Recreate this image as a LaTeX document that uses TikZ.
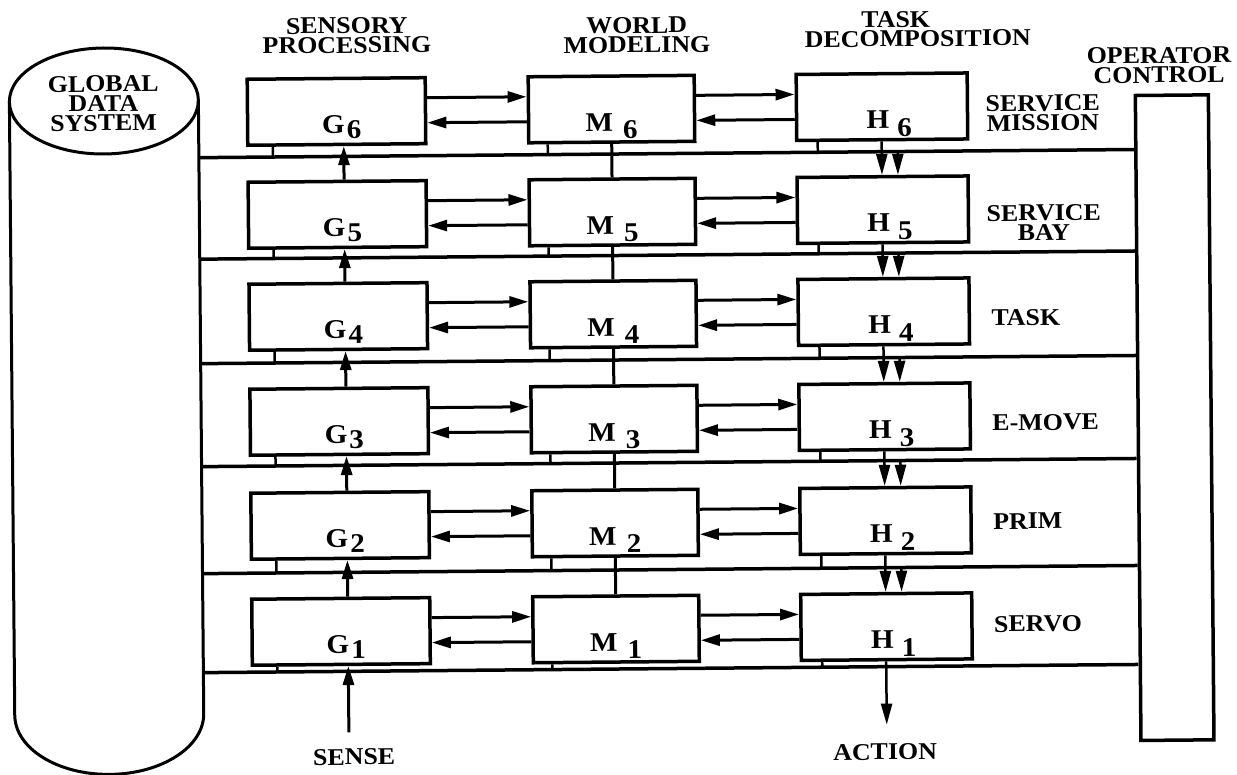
\documentclass[tikz,border=0pt]{standalone}
\usepackage{fontspec}
\setmainfont{Liberation Serif}[FakeStretch=1.08]
\usetikzlibrary{arrows.meta,calc}
\newcommand\lbf{\fontsize{24}{19.5}\selectfont\bfseries}
\newcommand\bxf{\fontsize{27}{27}\selectfont\bfseries}
\begin{document}
\begin{tikzpicture}[x=1pt,y=-1pt,
  blk/.style={draw,line width=3.5pt,inner sep=0pt,minimum height=66pt,text height=55pt,text depth=11pt,font=\bxf},
  gbox/.style={blk,minimum width=178pt},
  mbox/.style={blk,minimum width=166pt},
  hbox/.style={blk,minimum width=171pt},
  bus/.style={line width=3.5pt},
  arr/.style={line width=3pt,-{Triangle[length=19pt,width=11pt]}},
  darr/.style={line width=2.5pt,-{Triangle[length=21pt,width=11pt]}},
  stub/.style={line width=2.5pt},
  vline/.style={line width=3pt},
  cyl/.style={line width=3pt},
  txt/.style={font=\lbf,align=center,inner sep=0pt},
]
\useasboundingbox (0,0) rectangle (1237,775);
\begin{scope}[rotate around={0.5:(620,400)},transform shape]
% global data system
\node[inner sep=0pt,outer sep=0pt,minimum width=189pt,minimum height=613.5pt] (gds) at (106.5,403.25) {};
\draw[cyl] (gds.north west) -- (gds.south west) arc[start angle=180,end angle=0,x radius=94.5,y radius=60] -- (gds.north east);
\draw[cyl] (gds.north) ellipse[x radius=94.5,y radius=53];
\node[txt] (gdst) at (106,99) {GLOBAL\\DATA\\SYSTEM};
% operator control
\node[draw,line width=3.5pt,inner sep=0pt,minimum width=73pt,minimum height=645pt] (op) at (1174.5,422.5) {};
\node[txt] (opt) at (1162,70) {OPERATOR\\CONTROL};
% buses
\foreach \Y in {154,255.5,360,463,570,669}{
  \draw[bus] ($(gds.north east)+(0,\Y-96.5)$) -- ($(op.north west)+(0,\Y-98.25)$);
}
% boxes
\foreach \n/\t in {6/76,5/179,4/281,3/386,2/490,1/596}{
  \node[gbox] (G\n) at (339,\t+33) {\hspace*{10pt}G\hspace{2pt}\raisebox{-5pt}{\n}};
  \node[mbox] (M\n) at (614,\t+33) {M\hspace{10pt}\raisebox{-8pt}{\n}};
  \node[hbox] (H\n) at (884.5,\t+33) {\hspace*{14pt}H\hspace{8pt}\raisebox{-8pt}{\n}};
}
% horizontal arrows
\foreach \n in {1,...,6}{
  \draw[arr] ($(G\n.north east)!0.313!(G\n.south east)$) -- ($(M\n.north west)!0.313!(M\n.south west)$);
  \draw[arr] ($(M\n.north west)!0.673!(M\n.south west)$) -- ($(G\n.north east)!0.673!(G\n.south east)$);
  \draw[arr] ($(M\n.north east)!0.313!(M\n.south east)$) -- ($(H\n.north west)!0.313!(H\n.south west)$);
  \draw[arr] ($(H\n.north west)!0.673!(H\n.south west)$) -- ($(M\n.north east)!0.673!(M\n.south east)$);
}
% vertical links
\foreach \n/\m in {1/2,2/3,3/4,4/5,5/6}{
  \draw[arr] ($(G\n.north west)!0.5386!(G\n.north east)$) -- ($(G\m.south west)!0.5386!(G\m.south east)$);
  \draw[vline] (M\n.north) -- (M\m.south);
  \draw[darr] ($(H\m.south west)!0.4971!(H\m.south east)$) -- ($(H\n.north west)!0.4971!(H\n.north east)$);
}
% arrows from operator bus into H boxes
\foreach \n/\d in {5/23.25,4/23.75,3/24.25,2/25.25,1/24.25}{
  \draw[darr] ($(H\n.north west)!0.5888!(H\n.north east)+(0,-\d)$) -- ($(H\n.north west)!0.5888!(H\n.north east)$);
}
% stubs to buses
\foreach \n/\s in {6/10.25,5/8.75,4/11.25,3/9.25,2/12.25,1/5.25}{
  \draw[stub] ($(G\n.south west)!0.1474!(G\n.south east)$) -- ++(0,\s);
  \draw[stub] ($(M\n.south west)!0.1224!(M\n.south east)$) -- ++(0,\s);
  \draw[stub] ($(H\n.south west)!0.1304!(H\n.south east)$) -- ++(0,\s);
}
% sense and action
\coordinate (sns) at (346,730);
\draw[arr] (sns) -- ($(G1.south west)!0.5386!(G1.south east)$);
\node[txt] (sense) at (351,754.7) {SENSE};
\coordinate (act) at (884,727);
\draw[darr] ($(H1.south west)!0.4971!(H1.south east)$) -- (act);
\node[txt] (action) at (882,754.3) {ACTION};
% headers
\node[txt] (sp) at (350,33.1) {SENSORY\\PROCESSING};
\node[txt] (wm) at (640,35.2) {WORLD\\MODELING};
\node[txt] (td) at (921,31.5) {TASK\hspace*{44pt}\\DECOMPOSITION};
% level labels
\node[txt,anchor=west] (l6) at (988,116.7) {SERVICE\\MISSION};
\node[txt,anchor=west] (l5) at (988,226.2) {SERVICE\\BAY};
\node[txt,anchor=west] (l4) at (992,321) {TASK};
\node[txt,anchor=west] (l3) at (992,426) {E-MOVE};
\node[txt,anchor=west] (l2) at (992,524.6) {PRIM};
\node[txt,anchor=west] (l1) at (992,627.6) {SERVO};
\end{scope}
\end{tikzpicture}
\end{document}
